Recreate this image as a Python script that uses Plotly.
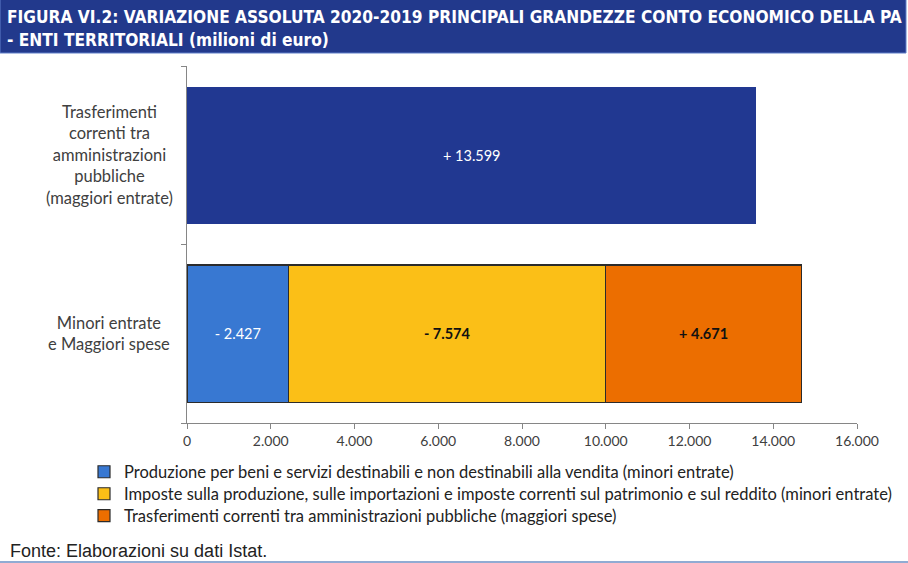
import plotly.graph_objects as go

# Categories (bottom to top)
categories = [
    "Minori entrate<br>e Maggiori spese",
    "Trasferimenti<br>correnti tra<br>amministrazioni<br>pubbliche<br>(maggiori entrate)",
]

# Series on the "Minori entrate e Maggiori spese" row
series_names = [
    "Produzione per beni e servizi destinabili e non destinabili alla vendita (minori entrate)",
    "Imposte sulla produzione, sulle importazioni e imposte correnti sul patrimonio e sul reddito (minori entrate)",
    "Trasferimenti correnti tra amministrazioni pubbliche (maggiori spese)",
]
series_values = [2427, 7574, 4671]
series_signs = ["-", "-", "+"]

# Single bar on the "Trasferimenti ... (maggiori entrate)" row
top_value = 13599
top_sign = "+"

x_ticks = [0, 2000, 4000, 6000, 8000, 10000, 12000, 14000, 16000]
x_tick_labels = ["0", "2.000", "4.000", "6.000", "8.000", "10.000", "12.000", "14.000", "16.000"]

series_colors = ["#3878d2", "#fbbf17", "#ec6e00"]
series_text_colors = ["white", "#111111", "#111111"]
series_text_bold = [False, True, True]
top_color = "#213891"

BODY_FONT = "Lato"
TITLE_FONT = "DejaVu Sans Condensed, DejaVu Sans"
NOTE_FONT = "Liberation Sans, Arial"

W, H = 908, 563
L, R, T, B = 187, 51, 66, 140
pw, ph = W - L - R, H - T - B


def px_x(px):
    return (px - L) / pw


def px_y(py):
    return (H - B - py) / ph


def fmt_it(v):
    return f"{v:,}".replace(",", ".")


fig = go.Figure()

fig.add_trace(go.Bar(
    y=[categories[1]], x=[top_value], orientation="h",
    marker=dict(color=top_color, line=dict(width=0)),
    text=[f"{top_sign} {fmt_it(top_value)}"],
    textposition="inside", insidetextanchor="middle", textangle=0,
    textfont=dict(family=BODY_FONT, size=14.5, color="white"),
    showlegend=False, hoverinfo="skip",
))

# one legend per series so each entry sits on its own line
legend_ids = ["legend", "legend2", "legend3"]
legend_rows_px = [472, 494, 516]

for name, val, sign, col, tcol, bold, lid in zip(series_names, series_values, series_signs,
                                                   series_colors, series_text_colors,
                                                   series_text_bold, legend_ids):
    label = f"{sign} {fmt_it(val)}"
    if bold:
        label = f"<b>{label}</b>"
    fig.add_trace(go.Bar(
        y=[categories[0]], x=[val], orientation="h", name=name, legend=lid,
        marker=dict(color=col, line=dict(color="#2b2b2b", width=1.2)),
        text=[label], textposition="inside", insidetextanchor="middle", textangle=0,
        textfont=dict(family=BODY_FONT, size=14.5, color=tcol),
    ))

shapes = [
    # title banner
    dict(type="rect", xref="paper", yref="paper",
         x0=px_x(0), x1=px_x(906), y0=px_y(53), y1=px_y(-2),
         fillcolor="#22398c", line=dict(color="#5f7fc9", width=1), layer="below"),
    # rule under the source note
    dict(type="line", xref="paper", yref="paper",
         x0=px_x(0), x1=px_x(908), y0=px_y(562), y1=px_y(562),
         line=dict(color="#6d8fc4", width=1.5)),
]

title_font = dict(family=TITLE_FONT, size=17.2, color="white")
annotations = [
    dict(xref="paper", yref="paper", x=px_x(5), y=px_y(17), xanchor="left", yanchor="middle",
         text="<b>FIGURA VI.2: VARIAZIONE ASSOLUTA 2020-2019 PRINCIPALI GRANDEZZE CONTO ECONOMICO DELLA PA</b>",
         showarrow=False, font=title_font),
    dict(xref="paper", yref="paper", x=px_x(5), y=px_y(40), xanchor="left", yanchor="middle",
         text="<b>- ENTI TERRITORIALI (milioni di euro)</b>",
         showarrow=False, font=title_font),
    dict(xref="paper", yref="paper", x=px_x(8), y=px_y(551), xanchor="left", yanchor="middle",
         text="Fonte: Elaborazioni su dati Istat.",
         showarrow=False, font=dict(family=NOTE_FONT, size=18, color="#222222")),
]

# category labels, centred in the left margin
for cat in categories:
    annotations.append(dict(
        xref="paper", yref="y", x=px_x(109), y=cat, xanchor="center", yanchor="middle",
        text=cat, align="center", showarrow=False,
        font=dict(family=BODY_FONT, size=16.5, color="#404040"),
    ))

legend_style = dict(
    orientation="v", xanchor="left", yanchor="middle",
    font=dict(family=BODY_FONT, size=16.5, color="#222222"),
    bgcolor="rgba(0,0,0,0)", itemclick=False, itemdoubleclick=False,
)
legends = {}
for lid, ypx in zip(legend_ids, legend_rows_px):
    legends[lid] = dict(legend_style, x=px_x(84), y=px_y(ypx))

fig.update_layout(
    width=W, height=H, autosize=False,
    margin=dict(l=L, r=R, t=T, b=B, pad=0),
    paper_bgcolor="white", plot_bgcolor="white",
    barmode="stack", bargap=0.23,
    shapes=shapes, annotations=annotations,
    xaxis=dict(
        range=[0, 16000], tickmode="array", tickvals=x_ticks, ticktext=x_tick_labels,
        showgrid=False, zeroline=False, showline=True, linecolor="#868686", linewidth=1,
        ticks="outside", ticklen=5, tickcolor="#868686",
        tickfont=dict(family=BODY_FONT, size=14, color="#404040"), fixedrange=True,
    ),
    yaxis=dict(
        type="category", categoryorder="array", categoryarray=categories,
        showticklabels=False, showgrid=False, zeroline=False,
        showline=True, linecolor="#868686", linewidth=1,
        ticks="outside", ticklen=5, tickcolor="#868686", tickson="boundaries",
        fixedrange=True,
    ),
    **legends,
)

fig.write_html("out.html")
